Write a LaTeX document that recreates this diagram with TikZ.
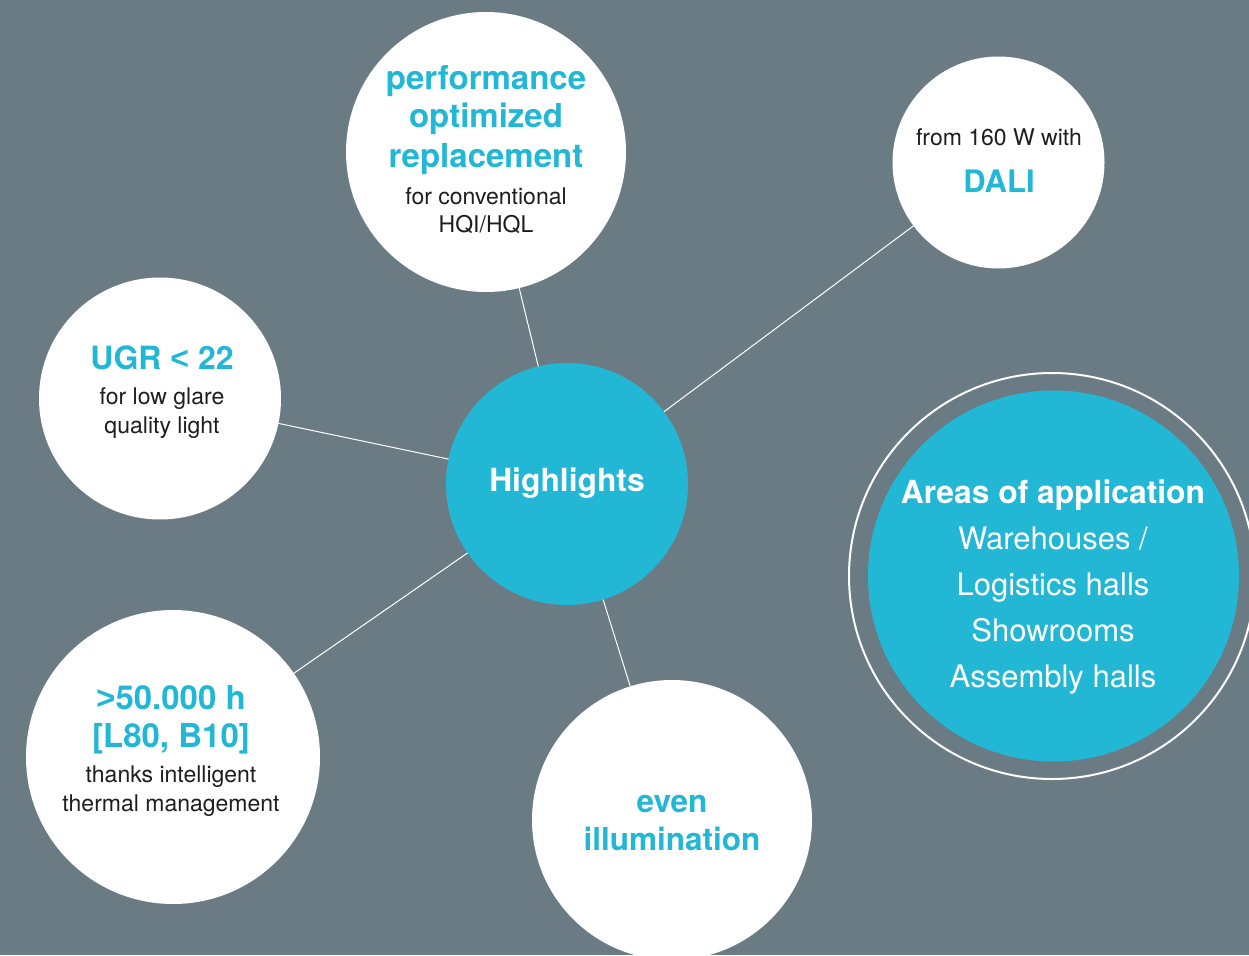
\documentclass[tikz,border=0pt]{standalone}
\usepackage{fontspec}
\setmainfont{TeX Gyre Heros}
\newfontfamily\symfont{Liberation Sans}
\definecolor{bg}{RGB}{107,123,132}
\definecolor{cy}{RGB}{35,183,214}
\definecolor{ink}{RGB}{30,30,30}
\begin{document}
\begin{tikzpicture}[x=1pt,y=-1pt,
  bubble/.style={circle,fill=white,inner sep=0pt,outer sep=0pt,minimum size=#1},
  hub/.style={circle,fill=cy,inner sep=0pt,outer sep=0pt,minimum size=#1},
  ringstyle/.style={circle,draw=white,line width=2pt,inner sep=0pt,outer sep=0pt,minimum size=#1},
  link/.style={draw=white,line width=1pt},
  hd/.style={anchor=base,text=cy,font=\fontsize{33}{38}\selectfont\bfseries,inner sep=0pt},
  bd/.style={anchor=base,text=ink,font=\fontsize{23}{28}\selectfont,inner sep=0pt},
  wh/.style={anchor=base,text=white,font=\fontsize{31.8}{38}\selectfont\bfseries,inner sep=0pt},
  wl/.style={anchor=base,text=white,font=\fontsize{31}{38}\selectfont,inner sep=0pt}
]
\fill[bg] (0,0) rectangle (1249,955);
\useasboundingbox (0,0) rectangle (1249,955);
\clip (0,0) rectangle (1249,955);

% circles
\node[hub=242] (hl) at (567,484) {};
\node[bubble=280] (perf) at (486,152) {};
\node[bubble=212] (dali) at (998.5,162.5) {};
\node[bubble=242] (ugr) at (160,398.5) {};
\node[bubble=294] (life) at (173,757) {};
\node[bubble=280] (even) at (672,820) {};
\node[ringstyle=406] (ring) at (1052,576) {};
\node[hub=371] (area) at (1053.5,576) {};

% connectors
\draw[link] (hl) -- (perf);
\draw[link] (hl) -- (dali);
\draw[link] (hl) -- (ugr);
\draw[link] (hl) -- (life);
\draw[link] (hl) -- (even);

% texts
\node[wh] (hlt) at (567,491) {Highlights};

\node[hd] (p1) at (486,90) {performance};
\node[hd] (p2) at (486,128) {optimized};
\node[hd] (p3) at (486,167) {replacement};
\node[bd] (p4) at (486,204) {for conventional};
\node[bd] (p5) at (486,232) {HQI/HQL};

\node[bd] (d1) at (999,146) {from 160 W with};
\node[hd,font=\fontsize{31}{38}\selectfont\bfseries] (d2) at (999,192) {DALI};

\node[hd,font=\fontsize{32}{38}\selectfont\bfseries] (u1) at (162,369) {UGR {\symfont <} 22};
\node[bd] (u2) at (162,404) {for low glare};
\node[bd] (u3) at (162,433) {quality light};

\node[hd] (l1) at (171,709) {{\symfont >}50.000 h};
\node[hd] (l2) at (171,747) {[L80, B10]};
\node[bd] (l3) at (171,782) {thanks intelligent};
\node[bd] (l4) at (171,811) {thermal management};

\node[hd,font=\fontsize{31.5}{36}\selectfont\bfseries] (e1) at (672,812) {even};
\node[hd,font=\fontsize{31.5}{36}\selectfont\bfseries] (e2) at (672,850) {illumination};

\node[wh] (a1) at (1053,503) {Areas of application};
\node[wl] (a2) at (1053,549) {Warehouses /};
\node[wl] (a3) at (1053,595) {Logistics halls};
\node[wl] (a4) at (1053,641) {Showrooms};
\node[wl] (a5) at (1053,687) {Assembly halls};
\end{tikzpicture}
\end{document}
